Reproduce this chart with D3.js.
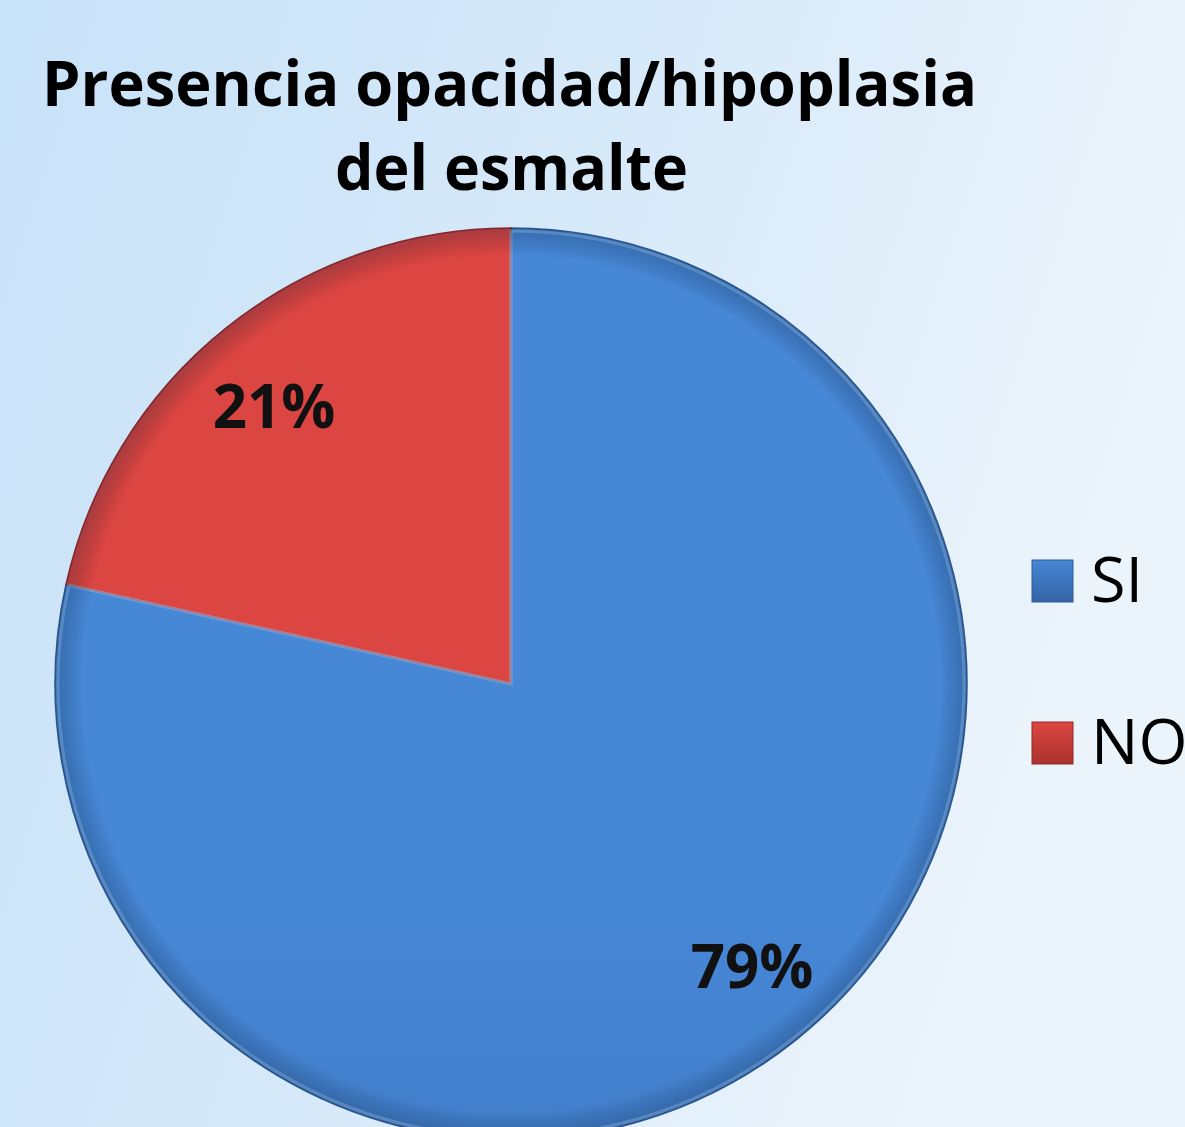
<!DOCTYPE html>
<html><head><meta charset="utf-8">
<script src="https://cdn.jsdelivr.net/npm/d3@7"></script>
<style>html,body{margin:0;padding:0;overflow:hidden;}svg{display:block;}</style>
</head><body>
<svg id="chart" width="1185" height="1127"></svg>
<script>
const categories = ["SI", "NO"];
const values = [78.5, 21.5];
const labels = ["79%", "21%"];
const titleLines = ["Presencia opacidad/hipoplasia", "del esmalte"];

const W = 1185, H = 1127;
const svg = d3.select("#chart");
const defs = svg.append("defs");

const bg = defs.append("linearGradient").attr("id","bg").attr("x1","0").attr("y1","0").attr("x2","1").attr("y2","0.3");
bg.append("stop").attr("offset","0").attr("stop-color","#c8e2f8");
bg.append("stop").attr("offset","0.5").attr("stop-color","#d6e9f9");
bg.append("stop").attr("offset","1").attr("stop-color","#ecf4fb");
svg.append("rect").attr("width",W).attr("height",H).attr("fill","url(#bg)");

const colors = {SI:["#4687d6","#3463a6"], NO:["#dc4642","#ab322e"]};
categories.forEach(c=>{
  const g = defs.append("linearGradient").attr("id","g"+c).attr("gradientUnits","userSpaceOnUse")
    .attr("x1",0).attr("y1",228).attr("x2",0).attr("y2",1140);
  g.append("stop").attr("offset","0").attr("stop-color",colors[c][0]);
  g.append("stop").attr("offset","1").attr("stop-color",colors[c][1]);
});
const rim = defs.append("radialGradient").attr("id","rim");
rim.append("stop").attr("offset","0.94").attr("stop-color","#000").attr("stop-opacity",0);
rim.append("stop").attr("offset","1").attr("stop-color","#0a1e40").attr("stop-opacity",0.25);

const cx = 511, cy = 684, R = 456;
const g = svg.append("g").attr("transform",`translate(${cx},${cy})`);
const data = categories.map((c,i)=>({cat:c, value:values[i], label:labels[i]}));
const pie = d3.pie().value(d=>d.value).sort(null);
const arcs = pie(data);
const arc = d3.arc().innerRadius(0).outerRadius(R);

g.selectAll("path.slice").data(arcs).join("path").attr("class","slice")
  .attr("d",arc).attr("fill",d=>`url(#g${d.data.cat})`)
  .attr("stroke",d=>d.data.cat==="SI"?"#2f5b96":"#8f2a27").attr("stroke-width",1.5);
// light bevel along blue slice edge
g.append("path").attr("d", d3.arc().innerRadius(0).outerRadius(R-3)(arcs[0]))
  .attr("fill","none").attr("stroke","#8cc0f4").attr("stroke-width",3).attr("stroke-opacity",0.6);
g.append("circle").attr("r",R).attr("fill","url(#rim)");

const labelPos = {SI:[752-cx,988-cy], NO:[274-cx,428-cy]};
g.selectAll("text.lbl").data(arcs).join("text").attr("class","lbl")
  .attr("x",d=>labelPos[d.data.cat][0]).attr("y",d=>labelPos[d.data.cat][1])
  .attr("text-anchor","middle").attr("font-family","'Open Sans', sans-serif")
  .attr("font-weight","bold").attr("font-size",60).attr("fill","#111")
  .text(d=>d.data.label);

// title
const tx = [[42,106,935],[335,190,353]];
svg.selectAll("text.title").data(titleLines).join("text").attr("class","title")
  .attr("x",(d,i)=>tx[i][0]).attr("y",(d,i)=>tx[i][1])
  .attr("textLength",(d,i)=>tx[i][2]).attr("lengthAdjust","spacingAndGlyphs")
  .attr("font-family","'Open Sans', sans-serif").attr("font-weight","bold")
  .attr("font-size",63).attr("fill","#000").text(d=>d);

// legend
categories.forEach(c=>{
  const lg = defs.append("linearGradient").attr("id","leg"+c).attr("x1",0).attr("y1",0).attr("x2",0).attr("y2",1);
  lg.append("stop").attr("offset","0").attr("stop-color",colors[c][0]);
  lg.append("stop").attr("offset","1").attr("stop-color",colors[c][1]);
});
const leg = svg.append("g");
const ly = d3.scalePoint().domain(categories).range([581,743]);
const li = leg.selectAll("g").data(categories).join("g").attr("transform",d=>`translate(0,${ly(d)})`);
li.append("rect").attr("x",1032).attr("y",-21).attr("width",41).attr("height",42)
  .attr("fill",d=>`url(#leg${d})`).attr("stroke",d=>d==="SI"?"#2f5b96":"#8f2a27").attr("stroke-width",1);
li.append("text").attr("x",1091).attr("y",21).attr("font-family","'Open Sans', sans-serif")
  .attr("font-size",63).attr("fill","#000").text(d=>d);
</script>
</body></html>
